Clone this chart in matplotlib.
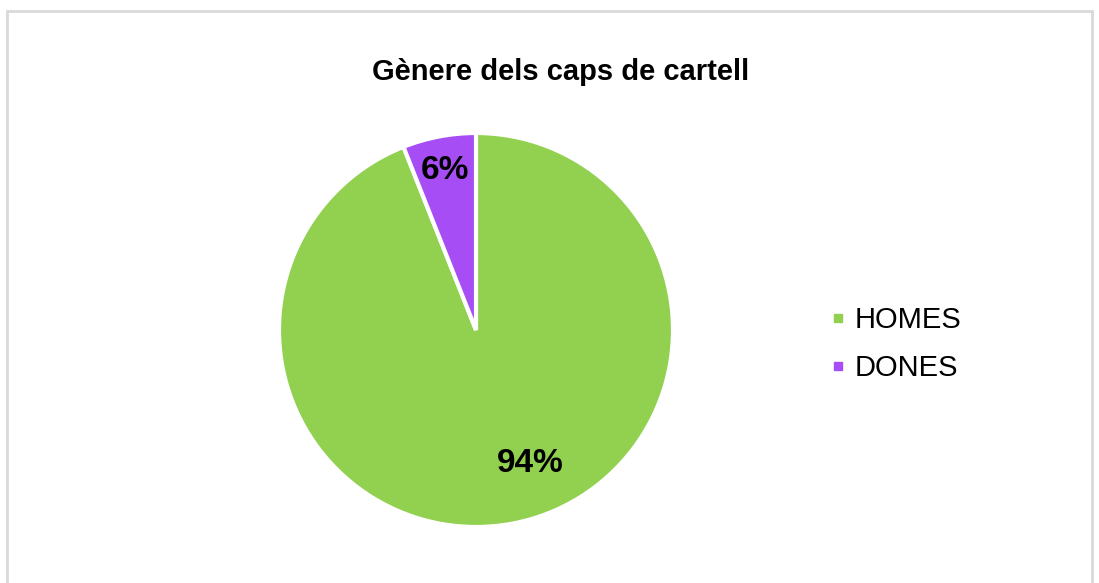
import matplotlib.pyplot as plt
from matplotlib.patches import Rectangle
from matplotlib.lines import Line2D

plt.rcParams['font.family'] = ['Liberation Sans', 'DejaVu Sans']

labels = ['HOMES', 'DONES']
values = [94, 6]
colors = ['#92D050', '#A64DF5']

W, H = 1099, 583
fig = plt.figure(figsize=(W / 100, H / 100), dpi=100)

# light grey frame around the chart
fig.patches.append(Rectangle((7 / W, -0.05), (1092 - 7) / W, 1.05 - 11 / H,
                             transform=fig.transFigure, fill=False,
                             edgecolor='#d9d9d9', linewidth=2))

cx, cy, r = 476, 330, 197
ax = fig.add_axes([(cx - r) / W, (H - cy - r) / H, 2 * r / W, 2 * r / H])
wedges, texts, autotexts = ax.pie(values, colors=colors, startangle=90,
                                  counterclock=False, autopct='%d%%',
                                  pctdistance=0.83,
                                  wedgeprops=dict(edgecolor='white', linewidth=3),
                                  textprops=dict(fontsize=24, fontweight='bold'))
autotexts[0].set_position((54 / r, -133 / r))
autotexts[1].set_position((-31 / r, 160 / r))
ax.set_xlim(-1, 1); ax.set_ylim(-1, 1)
ax.set_aspect('equal')

fig.text(561 / W, 1 - 72 / H, 'Gènere dels caps de cartell', ha='center', va='center',
         fontsize=21, fontweight='bold')

handles = [Line2D([], [], marker='s', linestyle='none', markersize=6,
                  markerfacecolor=c, markeredgecolor=c) for c in colors]
fig.legend(handles, labels, loc='center left', bbox_to_anchor=(831 / W, 1 - 344 / H),
           frameon=False, fontsize=21, handletextpad=0.3, handlelength=0.5,
           borderpad=0, borderaxespad=0, labelspacing=0.68)

fig.savefig('out.png', dpi=100)
